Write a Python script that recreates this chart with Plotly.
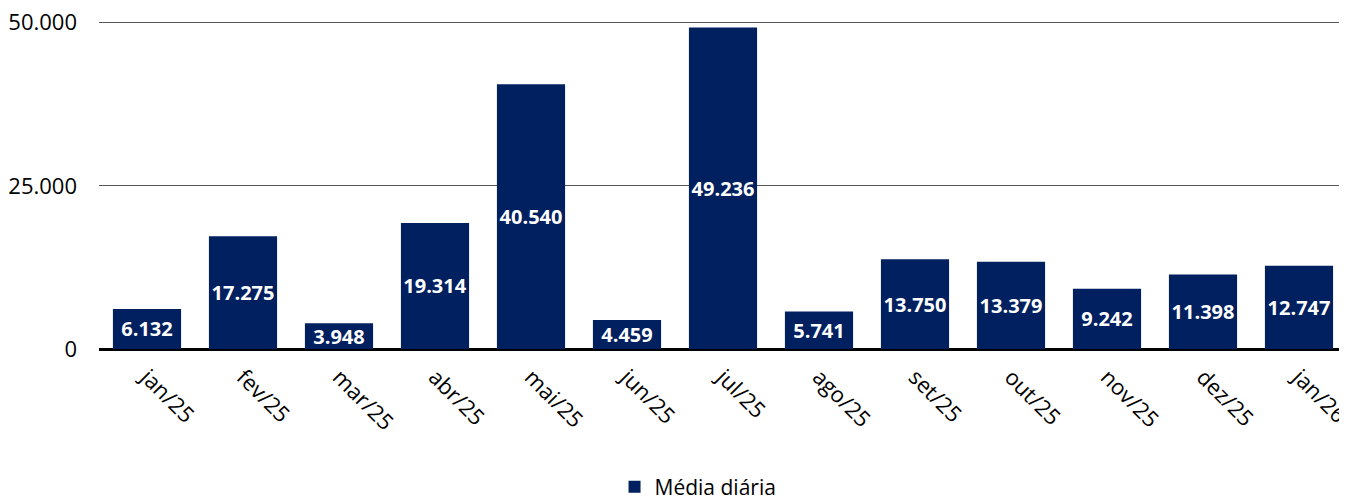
import plotly.graph_objects as go

categories = ["jan/25", "fev/25", "mar/25", "abr/25", "mai/25", "jun/25", "jul/25",
              "ago/25", "set/25", "out/25", "nov/25", "dez/25", "jan/26"]
values = [6132, 17275, 3948, 19314, 40540, 4459, 49236, 5741, 13750, 13379, 9242, 11398, 12747]
labels = [f"{v:,}".replace(",", ".") for v in values]
series_name = "Média diária"
tick_vals = [0, 25000, 50000]
tick_text = ["0", "25.000", "50.000"]

fig = go.Figure()
fig.add_trace(go.Bar(
    x=categories, y=values, name=series_name,
    marker=dict(color="#002060", line=dict(width=0)),
    text=labels, textposition="inside", insidetextanchor="middle",
    textangle=0,
    textfont=dict(family="Open Sans", size=20, color="white", weight="bold"),
))

fig.update_layout(
    width=1347, height=497,
    margin=dict(l=91, r=8, t=12, b=156),
    plot_bgcolor="white", paper_bgcolor="white",
    bargap=0.29,
    font=dict(family="Open Sans", size=22, color="#000000"),
    showlegend=True,
    legend=dict(orientation="h", x=0.48, xanchor="center",
                yref="container", y=0.036, yanchor="middle",
                font=dict(size=21), itemwidth=30),
    uniformtext=dict(minsize=20, mode="show"),
)
fig.update_xaxes(
    tickangle=45, showgrid=False, showline=False, ticks="",
    tickfont=dict(size=22, color="#000000"), automargin=False,
    ticklabelstandoff=10, ticklabeloverflow="allow",
)
fig.update_yaxes(
    range=[0, 50400], tickvals=tick_vals, ticktext=tick_text,
    showgrid=True, gridcolor="#595959", gridwidth=1,
    zeroline=True, zerolinecolor="#000000", zerolinewidth=2.5,
    showline=False, ticks="", ticklabelstandoff=21, automargin=False,
    ticklabeloverflow="allow",
    tickfont=dict(size=22, color="#000000"),
)

fig.write_html("out.html")
